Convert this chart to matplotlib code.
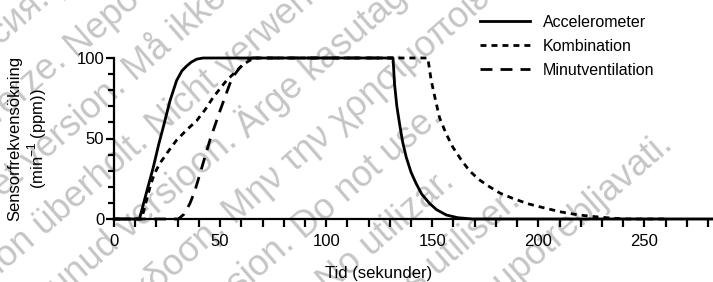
import numpy as np
import matplotlib.pyplot as plt
from matplotlib.ticker import MultipleLocator

plt.rcParams['font.family'] = ['Liberation Sans', 'DejaVu Sans']
plt.rcParams['mathtext.fontset'] = 'custom'
plt.rcParams['mathtext.rm'] = 'Liberation Sans'
plt.rcParams['lines.scale_dashes'] = False

# Sensor rate increase (ppm) over time (seconds)
acc_t = [0, 12, 15, 18.5, 21, 23.2, 26.4, 29.5, 32, 34.2, 36.5, 39, 42,
         131.5, 132.2, 133.3, 134.6, 136, 137.7, 140, 142.4, 145, 148.7,
         152, 156.6, 162, 169, 282]
acc_v = [0, 0, 15, 32, 46, 57, 73.5, 86, 92, 95, 97.5, 99.3, 100,
         100, 84, 70, 59, 48, 38.5, 29, 22, 15.5, 9.7,
         5.8, 2.5, 0.8, 0, 0]

komb_t = [0, 13, 15, 17, 19, 21.6, 25, 29.5, 34, 38.9, 43, 46.7, 50, 53, 57,
          60.9, 64, 67, 147.9, 148.7, 149.5, 151.5, 153.4, 156.5, 159.7,
          163.5, 167.5, 172, 177, 182, 188, 195, 203.6, 211, 219, 227, 235,
          241, 260]
komb_v = [0, 0, 10, 20, 28, 34.5, 41, 49, 55, 61, 68, 75.5, 81, 86, 91,
          96, 98.5, 100, 100, 93, 86, 74, 63, 53, 44.6,
          37, 30, 24.5, 20, 16, 12.8, 9.5, 6.6, 4.3, 2.5, 1.4, 0.5,
          0, 0]

mv_t = [0, 30.3, 33, 35.8, 38, 40.5, 45.2, 49.9, 54.6, 57, 59.3, 62, 65, 131.5]
mv_v = [0, 0, 3, 9.7, 17, 28, 49, 67, 84, 90, 94, 97.5, 100, 100]

labels = ['Accelerometer', 'Kombination', 'Minutventilation']

# background watermark: (offset across, offset along, first part, second part)
watermark = [
    (26, 48, 'Остаряла версия.', 'Да не се използва.'),
    (83.5, 20, 'Zastaralá verze.', 'Nepoužívat.'),
    (141, 48, 'Forældet version.', 'Må ikke anvendes.'),
    (198.5, 29, 'Version überholt.', 'Nicht verwenden.'),
    (256, 96, 'Aegunud versioon.', 'Ärge kasutage.'),
    (313.5, 30, 'Παλιά έκδοση.', 'Μην την χρησιμοποιείτε.'),
    (371, 72, 'Outdated version.', 'Do not use.'),
    (428.5, 55, 'Versión obsoleta.', 'No utilizar.'),
    (486, 25, 'Version périmée.', 'Ne pas utiliser.'),
    (543.5, 43, 'Zastarjela verzija.', 'Nemojte upotrebljavati.'),
]

W, H = 713, 282
fig = plt.figure(figsize=(W / 100, H / 100), dpi=100)
ax = fig.add_axes([114 / W, 1 - 219 / H, 599 / W, 161 / H])
ax.patch.set_visible(False)

ang = 41
th = np.radians(ang)
for d, s, first, second in watermark:
    x = s * np.cos(th) + d * np.sin(th)
    y = -s * np.sin(th) + d * np.cos(th)
    fig.text(x / W, 1 - y / H, second, rotation=ang, rotation_mode='anchor',
             ha='left', va='center', fontsize=26, color='#c5c5c5', zorder=-10)
    x1 = x - 10 * np.cos(th)
    y1 = y + 10 * np.sin(th)
    fig.text(x1 / W, 1 - y1 / H, first, rotation=ang, rotation_mode='anchor',
             ha='right', va='center', fontsize=26, color='#c5c5c5', zorder=-10)

ax.plot(acc_t, acc_v, color='black', lw=2, clip_on=False, label=labels[0])
ax.plot(komb_t, komb_v, color='black', lw=2, dashes=(4.3, 3.6), clip_on=False,
        label=labels[1])
ax.plot(mv_t, mv_v, color='black', lw=2, dashes=(8.6, 5.8), clip_on=False,
        label=labels[2])

ax.set_xlim(0, 282.3)
ax.set_ylim(0, 100)
for side in ['top', 'right']:
    ax.spines[side].set_visible(False)
for side in ['left', 'bottom']:
    ax.spines[side].set_linewidth(1.6)

ax.xaxis.set_major_locator(MultipleLocator(50))
ax.xaxis.set_minor_locator(MultipleLocator(10))
ax.yaxis.set_major_locator(MultipleLocator(50))
ax.yaxis.set_minor_locator(MultipleLocator(10))
ax.tick_params(which='major', length=5.5, width=1.6, labelsize=12)
ax.tick_params(which='minor', length=4, width=1.6)
ax.tick_params(axis='x', which='minor', length=5.5)
ax.tick_params(axis='x', which='major', pad=5.5)
ax.tick_params(axis='y', which='major', pad=1.5)

ax.set_xlabel('Tid (sekunder)', fontsize=12)
ax.set_ylabel('Sensorfrekvensökning\n(min$^{\\mathregular{-1}}$ (ppm))', fontsize=12)
ax.xaxis.set_label_coords(0.4416, -0.29)
ax.yaxis.set_label_coords(-0.108, 0.5)

ax.legend(loc='upper left', bbox_to_anchor=(480 / W, 1 - 15 / H),
          bbox_transform=fig.transFigure, frameon=False, fontsize=11.5,
          handlelength=3.13, handletextpad=0.8, labelspacing=0.56,
          borderpad=0, borderaxespad=0)

fig.savefig('out.png', dpi=100)
